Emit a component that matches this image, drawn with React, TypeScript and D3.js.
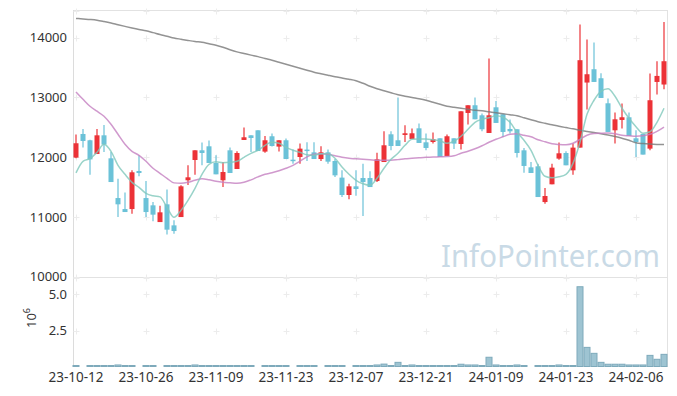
import { useEffect, useRef } from 'react';
import * as d3 from 'd3';

const dates = [
  '23-10-12', '23-10-13', '23-10-16', '23-10-17', '23-10-18', '23-10-19', '23-10-20', '23-10-23', '23-10-24', '23-10-25',
  '23-10-26', '23-10-27', '23-10-30', '23-10-31', '23-11-01', '23-11-02', '23-11-03', '23-11-06', '23-11-07', '23-11-08',
  '23-11-09', '23-11-10', '23-11-13', '23-11-14', '23-11-15', '23-11-16', '23-11-17', '23-11-20', '23-11-21', '23-11-22',
  '23-11-23', '23-11-24', '23-11-27', '23-11-28', '23-11-29', '23-11-30', '23-12-01', '23-12-04', '23-12-05', '23-12-06',
  '23-12-07', '23-12-08', '23-12-11', '23-12-12', '23-12-13', '23-12-14', '23-12-15', '23-12-18', '23-12-19', '23-12-20',
  '23-12-21', '23-12-22', '23-12-26', '23-12-27', '23-12-28', '24-01-02', '24-01-03', '24-01-04', '24-01-05', '24-01-08',
  '24-01-09', '24-01-10', '24-01-11', '24-01-12', '24-01-15', '24-01-16', '24-01-17', '24-01-18', '24-01-19', '24-01-22',
  '24-01-23', '24-01-24', '24-01-25', '24-01-26', '24-01-29', '24-01-30', '24-01-31', '24-02-01', '24-02-02', '24-02-05',
  '24-02-06', '24-02-07', '24-02-08', '24-02-13', '24-02-14',
];

const open = [
  11990, 12385, 12280, 12050, 12363, 11978, 11313, 11129, 11129, 11766,
  11313, 11191, 10911, 11208, 10856, 10995, 11610, 11950, 12112, 12179,
  11900, 11610, 12112, 11799, 12285, 12363, 12447, 12090, 12347, 12174,
  12280, 11955, 12000, 12124, 12078, 11966, 12078, 11933, 11655, 11364,
  11509, 11648, 11648, 11598, 11916, 12380, 12280, 12369, 12302, 12480,
  12246, 12251, 12313, 12017, 12313, 12218, 12737, 12866, 12698, 12402,
  12832, 12715, 12469, 12464, 12112, 11827, 11844, 11246, 11543, 11973,
  12067, 11777, 12157, 13246, 13469, 13318, 12899, 12447, 12620, 12665,
  12313, 12385, 12140, 13256, 13213,
];
const high = [
  12375, 12469, 12290, 12469, 12536, 12084, 11638, 11404, 11777, 12028,
  11598, 11246, 11186, 11454, 10940, 11526, 11861, 12112, 12241, 12275,
  12028, 11916, 12157, 12095, 12492, 12363, 12447, 12352, 12392, 12280,
  12308, 12124, 12224, 12246, 12246, 12179, 12124, 11966, 11777, 11554,
  11777, 11889, 11760, 12073, 12430, 12430, 12995, 12531, 12476, 12560,
  12392, 12408, 12313, 12375, 12313, 12765, 12866, 12995, 12727, 13648,
  12938, 12715, 12626, 12464, 12151, 11916, 11889, 11481, 11889, 12241,
  12095, 12224, 14218, 13966, 13916, 13402, 12978, 12743, 12894, 12743,
  12447, 12385, 13397, 13603, 14260,
];
const low = [
  11980, 12157, 11705, 12050, 12084, 11581, 10995, 11079, 11052, 11677,
  10995, 10923, 10911, 10705, 10717, 10995, 11531, 11705, 11861, 11900,
  11710, 11498, 11732, 11799, 12285, 12084, 12100, 12073, 12174, 12090,
  11966, 11889, 11889, 11933, 11966, 11933, 11889, 11665, 11330, 11291,
  11353, 11012, 11497, 11581, 11916, 12112, 12184, 12251, 12302, 12235,
  12112, 12224, 12000, 12017, 12134, 12124, 12543, 12631, 12430, 12402,
  12570, 12335, 12392, 11990, 11738, 11732, 11330, 11219, 11543, 11956,
  11861, 11705, 12157, 12794, 13256, 12988, 12419, 12224, 12475, 12352,
  12000, 12040, 12112, 13045, 13134,
];
const close = [
  12230, 12268, 11960, 12363, 12208, 11581, 11208, 11079, 11744, 11732,
  11079, 11035, 11074, 10784, 10761, 11509, 11660, 12112, 12067, 11900,
  11710, 11749, 11732, 12067, 12330, 12318, 12100, 12280, 12184, 12280,
  11966, 11933, 12140, 12100, 11966, 12078, 11922, 11693, 11364, 11509,
  11464, 11581, 11497, 11961, 12196, 12184, 12184, 12397, 12397, 12235,
  12151, 12297, 12000, 12347, 12224, 12765, 12866, 12631, 12464, 12698,
  12570, 12419, 12430, 12067, 11850, 11732, 11330, 11347, 11822, 12062,
  11861, 12157, 13620, 13385, 13256, 12988, 12419, 12631, 12665, 12352,
  12251, 12040, 12950, 13357, 13603,
];

// volume in millions of shares
const volume = [
  0.05, 0, 0.05, 0.05, 0.05, 0.05, 0.14, 0.05, 0.05, 0,
  0.05, 0.05, 0, 0.05, 0.05, 0.05, 0.05, 0.14, 0.05, 0.05,
  0.05, 0.05, 0.05, 0.05, 0.05, 0.05, 0, 0.05, 0.05, 0.05,
  0.05, 0, 0.05, 0.05, 0.05, 0, 0.05, 0.05, 0.05, 0,
  0.05, 0.05, 0.05, 0.14, 0.2, 0.05, 0.32, 0.05, 0.14, 0.05,
  0.05, 0.05, 0.05, 0.05, 0.05, 0.19, 0.14, 0.14, 0.05, 0.67,
  0.14, 0.05, 0.05, 0.14, 0.05, 0, 0.05, 0.05, 0.05, 0.14,
  0.05, 0.05, 5.52, 1.35, 0.94, 0.32, 0.19, 0.19, 0.19, 0.14,
  0.14, 0.14, 0.8, 0.53, 0.87,
];

const ma5 = [
  11735, 11928, 11973, 12079, 12213, 12095, 11861, 11710, 11576, 11492,
  11392, 11350, 11333, 11157, 10990, 11107, 11275, 11476, 11710, 11878,
  11920, 11903, 11911, 11928, 11995, 12062, 12112, 12196, 12246, 12230,
  12162, 12112, 12079, 12037, 12028, 12054, 12054, 11978, 11832, 11710,
  11610, 11551, 11526, 11643, 11811, 11961, 12062, 12196, 12296, 12302,
  12302, 12288, 12271, 12230, 12263, 12347, 12464, 12581, 12631, 12657,
  12690, 12665, 12581, 12414, 12280, 12112, 11861, 11677, 11652, 11668,
  11710, 11894, 12246, 12715, 12950, 13100, 13142, 13017, 12816, 12648,
  12506, 12397, 12422, 12581, 12816,
];
const ma20 = [
  13089, 12966, 12849, 12766, 12682, 12548, 12380, 12213, 12095, 12028,
  11928, 11811, 11727, 11643, 11567, 11559, 11576, 11610, 11635, 11618,
  11593, 11576, 11567, 11559, 11576, 11618, 11668, 11710, 11735, 11769,
  11811, 11861, 11928, 12003, 12045, 12054, 12045, 12020, 11995, 11978,
  11970, 11961, 11953, 11945, 11945, 11945, 11956, 11970, 11978, 11987,
  11995, 11998, 12003, 12007, 12020, 12062, 12095, 12137, 12188, 12246,
  12296, 12338, 12380, 12389, 12363, 12338, 12288, 12255, 12221, 12209,
  12204, 12229, 12296, 12363, 12392, 12397, 12400, 12389, 12363, 12355,
  12347, 12355, 12380, 12430, 12502,
];
const ma120 = [
  14319, 14310, 14302, 14290, 14268, 14243, 14214, 14186, 14159, 14134,
  14112, 14082, 14050, 14022, 13992, 13971, 13951, 13933, 13921, 13896,
  13871, 13837, 13795, 13759, 13732, 13705, 13680, 13648, 13620, 13586,
  13553, 13519, 13486, 13452, 13419, 13394, 13368, 13343, 13322, 13301,
  13276, 13234, 13184, 13142, 13109, 13075, 13042, 13017, 12995, 12975,
  12950, 12916, 12883, 12849, 12832, 12816, 12799, 12782, 12774, 12757,
  12740, 12724, 12707, 12690, 12657, 12623, 12590, 12564, 12539, 12514,
  12492, 12471, 12447, 12427, 12409, 12389, 12367, 12342, 12313, 12280,
  12238, 12224, 12216, 12211, 12208,
];

const priceTicks = [10000, 11000, 12000, 13000, 14000];
const volTicks = [2.5, 5.0];
const xTickIdx = [0, 10, 20, 30, 40, 50, 60, 70, 80];

const W = 677;
const H = 396;
const LEFT = 73;
const RIGHT = 667;
const P_TOP = 10;
const P_BOT = 277;
const V_BOT = 367;

const UP = '#ec3237';
const DOWN = '#6bc2d8';
const FONT = '"Noto Sans", "Open Sans", sans-serif';

export default function App() {
  const svgRef = useRef<SVGSVGElement>(null);

  useEffect(() => {
    if (!svgRef.current) return;
    const svg = d3.select(svgRef.current);
    svg.selectAll('*').remove();

    const x = d3.scaleLinear().domain([-0.5, dates.length - 0.5]).range([LEFT - 0.5, RIGHT + 0.5]);
    const y = d3.scaleLinear().domain([10000, 14000]).range([276.5, 37.5]);
    const yv = d3.scaleLinear().domain([0, 5]).range([V_BOT, 294.3]);

    // ── frame ──────────────────────────────────────────
    const frame = svg.append('g').attr('stroke', '#e2e2e2').attr('fill', 'none');
    frame.append('line').attr('x1', LEFT).attr('x2', RIGHT).attr('y1', P_TOP + 0.5).attr('y2', P_TOP + 0.5);
    frame.append('line').attr('x1', LEFT).attr('x2', RIGHT).attr('y1', P_BOT + 0.5).attr('y2', P_BOT + 0.5);
    frame.append('line').attr('x1', RIGHT + 0.5).attr('x2', RIGHT + 0.5).attr('y1', P_TOP).attr('y2', V_BOT);
    frame.append('line').attr('x1', LEFT + 0.5).attr('x2', LEFT + 0.5).attr('y1', P_TOP).attr('y2', V_BOT)
      .attr('stroke', '#dcdcdc');

    // ── plus markers at grid crossings ─────────────────
    const rows = [P_TOP + 0.5, ...priceTicks.map(t => y(t)), P_BOT + 0.5, ...volTicks.map(t => yv(t))];
    const plus = svg.append('g').attr('stroke', '#ececec').attr('stroke-width', 1);
    xTickIdx.forEach(i => {
      const cx = Math.round(x(i)) + 0.5;
      rows.forEach(ry => {
        const cy = Math.round(ry) + 0.5;
        plus.append('line').attr('x1', cx - 3).attr('x2', cx + 3).attr('y1', cy).attr('y2', cy);
        plus.append('line').attr('x1', cx).attr('x2', cx).attr('y1', cy - 3).attr('y2', cy + 3);
      });
    });

    // ── watermark ──────────────────────────────────────
    svg.append('text')
      .attr('x', 441).attr('y', 267)
      .attr('font-family', FONT).attr('font-size', 31)
      .attr('textLength', 219).attr('lengthAdjust', 'spacingAndGlyphs')
      .attr('fill', '#c9dae6')
      .text('InfoPointer.com');

    // ── axis labels ────────────────────────────────────
    priceTicks.forEach(t => {
      svg.append('text')
        .attr('x', 67).attr('y', y(t) + 4.8)
        .attr('text-anchor', 'end').attr('font-family', FONT).attr('font-size', 13)
        .attr('fill', '#333').text(String(t));
    });
    volTicks.forEach(t => {
      svg.append('text')
        .attr('x', 67).attr('y', yv(t) + 4.8)
        .attr('text-anchor', 'end').attr('font-family', FONT).attr('font-size', 13)
        .attr('fill', '#333').text(t.toFixed(1));
    });
    const exp = svg.append('text')
      .attr('transform', 'translate(36, 318) rotate(-90)')
      .attr('text-anchor', 'middle').attr('font-family', FONT).attr('font-size', 13)
      .attr('fill', '#333');
    exp.append('tspan').text('10');
    exp.append('tspan').attr('dy', -6).attr('font-size', 9).text('6');

    xTickIdx.forEach(i => {
      svg.append('text')
        .attr('x', x(i)).attr('y', 382)
        .attr('text-anchor', 'middle').attr('font-family', FONT).attr('font-size', 13.5)
        .attr('fill', '#333').text(dates[i]);
    });

    // ── volume bars ────────────────────────────────────
    const volG = svg.append('g');
    volume.forEach((v, i) => {
      if (v <= 0) return;
      const top = Math.min(yv(v), V_BOT - 1.5);
      volG.append('rect')
        .attr('x', x(i) - 3).attr('y', top)
        .attr('width', 6).attr('height', V_BOT - 0.5 - top)
        .attr('fill', '#9ec4d2').attr('stroke', '#7eaabb').attr('stroke-width', 1);
    });

    // ── candles ────────────────────────────────────────
    const candleG = svg.append('g');
    dates.forEach((_, i) => {
      const o = open[i], c = close[i];
      const color = c >= o ? UP : DOWN;
      const cx = x(i);
      candleG.append('line')
        .attr('x1', cx).attr('x2', cx)
        .attr('y1', y(high[i])).attr('y2', y(low[i]))
        .attr('stroke', color).attr('stroke-width', 1.2);
      const top = y(Math.max(o, c));
      const h = Math.max(1.5, y(Math.min(o, c)) - top);
      candleG.append('rect')
        .attr('x', cx - 2.5).attr('y', top)
        .attr('width', 5).attr('height', h)
        .attr('fill', color);
    });

    // ── moving averages ────────────────────────────────
    const line = d3.line<number>()
      .x((_, i) => x(i))
      .y(d => y(d))
      .curve(d3.curveMonotoneX);
    const mas: [number[], string][] = [
      [ma120, 'rgba(120,120,120,0.8)'],
      [ma20, 'rgba(196,128,192,0.8)'],
      [ma5, 'rgba(128,200,188,0.8)'],
    ];
    mas.forEach(([vals, color]) => {
      svg.append('path')
        .attr('d', line(vals) ?? '')
        .attr('fill', 'none').attr('stroke', color).attr('stroke-width', 1.5);
    });
  }, []);

  return (
    <svg
      ref={svgRef}
      width={W}
      height={H}
      style={{ position: 'absolute', left: 0, top: 0, background: '#fff' }}
    />
  );
}
